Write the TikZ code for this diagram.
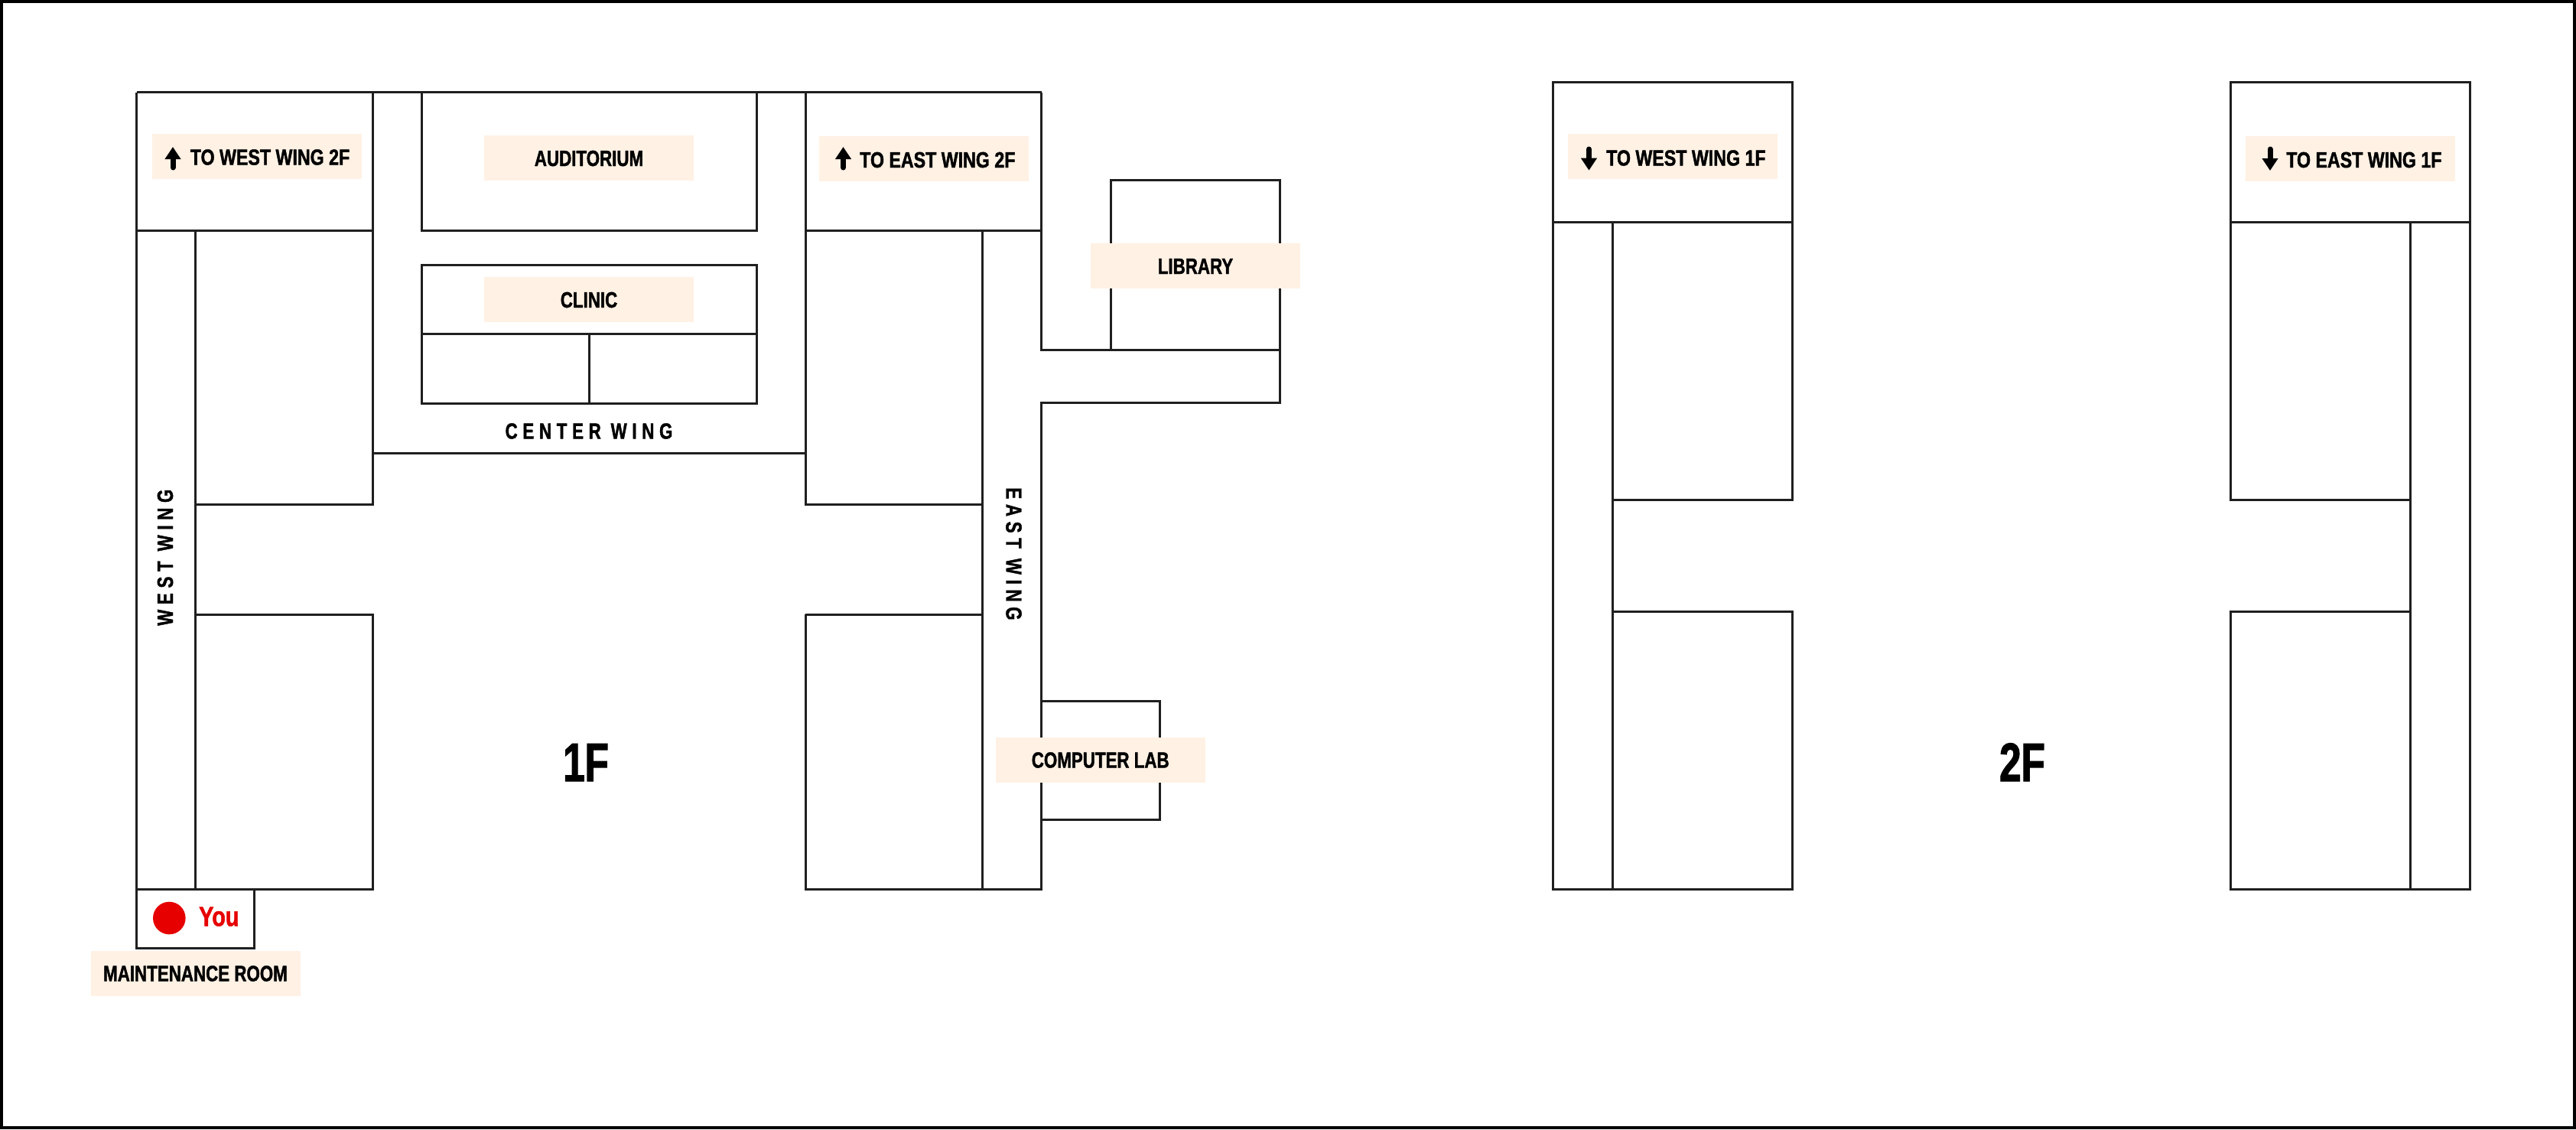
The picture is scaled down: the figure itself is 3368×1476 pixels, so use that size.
\documentclass[tikz,border=0pt]{standalone}
\usepackage{fontspec}
\usepackage{tikz}
\usetikzlibrary{arrows.meta}
\newfontfamily\signfont[FakeStretch=0.77,BoldFeatures={FakeBold=1.4}]{Liberation Sans}
\newfontfamily\tofont[FakeStretch=0.8,BoldFeatures={FakeBold=1.4}]{Liberation Sans}
\newfontfamily\wingfont[FakeStretch=0.77,BoldFeatures={FakeBold=1.4},LetterSpace=23]{Liberation Sans}
\newfontfamily\floorfont[FakeStretch=0.72,BoldFeatures={FakeBold=1.6}]{Liberation Sans}
\definecolor{signbg}{HTML}{FFF1E4}
\definecolor{wallcol}{HTML}{1F1F1F}
\definecolor{youred}{HTML}{E60000}
\tikzset{
  wall/.style={draw=wallcol,line width=3pt},
  signbox/.style={fill=signbg,inner sep=0pt,minimum width=274pt,minimum height=59pt},
  signtext/.style={inner sep=0pt,text height=21pt,text depth=0pt,font=\signfont\bfseries\fontsize{29}{29}\selectfont},
  totext/.style={inner sep=0pt,anchor=west,text height=21pt,text depth=0pt,font=\tofont\bfseries\fontsize{29}{29}\selectfont},
  wingtext/.style={inner sep=0pt,text height=21pt,text depth=0pt,font=\wingfont\bfseries\fontsize{29}{29}\selectfont},
  floortext/.style={inner sep=0pt,text height=52pt,text depth=0pt,font=\floorfont\bfseries\fontsize{71}{71}\selectfont},
  youtext/.style={inner sep=0pt,text=youred,text height=26.7pt,text depth=0pt,font=\tofont\bfseries\fontsize{36}{36}\selectfont},
  signarrow/.style={line width=7pt,line cap=round,-{Triangle[length=16pt,width=20pt]}}
}
\begin{document}
\begin{tikzpicture}[x=1pt,y=-1pt]
\useasboundingbox (0,0) rectangle (3368,1476);
\draw[black,line width=4pt] (2,2) rectangle (3366,1474);

% 1F west wing
\draw[wall] (178.5,120.5) -- (1361.7,120.5);
\draw[wall] (178.5,120.5) -- (178.5,1239) -- (332.7,1239) -- (332.7,1162);
\draw[wall] (178.5,1162) -- (487.5,1162) -- (487.5,803) -- (255.8,803);
\draw[wall] (255.8,1162) -- (255.8,301);
\draw[wall] (178.5,301) -- (487.5,301);
\draw[wall] (487.5,120.5) -- (487.5,659) -- (255.8,659);

% 1F center wing
\draw[wall] (487.5,592) -- (1053,592);
\draw[wall] (551.5,120.5) rectangle (989,301);
\draw[wall] (551.5,346.4) rectangle (989,527);
\draw[wall] (551.5,436.4) -- (989,436.4);
\draw[wall] (770,436.4) -- (770,527);

% 1F east wing
\draw[wall] (1053,120.5) -- (1053,659) -- (1284.7,659);
\draw[wall] (1053,301) -- (1361.7,301);
\draw[wall] (1284.7,301) -- (1284.7,1162);
\draw[wall] (1053,803.3) -- (1284.7,803.3);
\draw[wall] (1053,803.3) -- (1053,1162) -- (1361.7,1162) -- (1361.7,526.3) -- (1673.5,526.3) -- (1673.5,235.7) -- (1452.6,235.7) -- (1452.6,457);
\draw[wall] (1361.7,120.5) -- (1361.7,457) -- (1673.5,457);
\draw[wall] (1361.7,916.7) -- (1516.3,916.7) -- (1516.3,1071) -- (1361.7,1071);

% 2F
\draw[wall] (2108.6,799) -- (2343.3,799) -- (2343.3,1162) -- (2030.7,1162) -- (2030.7,107.5) -- (2343.3,107.5) -- (2343.3,653) -- (2108.6,653);
\draw[wall] (2030.7,290) -- (2343.3,290);
\draw[wall] (2108.6,290) -- (2108.6,1162);
\draw[wall] (3151,799) -- (2916,799) -- (2916,1162) -- (3229.7,1162) -- (3229.7,107.5) -- (2916,107.5) -- (2916,653) -- (3151,653);
\draw[wall] (2916,290) -- (3229.7,290);
\draw[wall] (3151,290) -- (3151,1162);

% signs
\node[signbox] (westup) at (336,204.5) {};
\node[signbox] (auditorium) at (770,206.5) {};
\node[signbox] (clinic) at (770,391.5) {};
\node[signbox] (eastup) at (1207.5,207.5) {};
\node[signbox] (library) at (1563,347.5) {};
\node[signbox] (complab) at (1438.7,993.8) {};
\node[signbox] (maint) at (255.5,1272.5) {};
\node[signbox] (westdown) at (2187,204.5) {};
\node[signbox] (eastdown) at (3073,207.5) {};

\node[signtext] (audtext) at (auditorium) {AUDITORIUM};
\node[signtext] (clintext) at (clinic) {CLINIC};
\node[signtext] (libtext) at (library) {LIBRARY};
\node[signtext] (labtext) at (1438.7,993) {COMPUTER LAB};
\node[signtext] (mainttext) at (255.5,1272) {MAINTENANCE ROOM};
\node[totext] (westuptext) at (248.6,205) {TO WEST WING 2F};
\node[totext] (eastuptext) at (1124,208.5) {TO EAST WING 2F};
\node[totext] (westdowntext) at (2100,206) {TO WEST WING 1F};
\node[totext] (eastdowntext) at (2989,208.5) {TO EAST WING 1F};

% arrows
\coordinate (wua) at (226,219);
\coordinate (wub) at (226,192);
\coordinate (eua) at (1102.5,219);
\coordinate (eub) at (1102.5,192);
\coordinate (wda) at (2077.5,195);
\coordinate (wdb) at (2077.5,222.7);
\coordinate (eda) at (2968,195);
\coordinate (edb) at (2968,223);
\draw[signarrow] (wua) -- (wub);
\draw[signarrow] (eua) -- (eub);
\draw[signarrow] (wda) -- (wdb);
\draw[signarrow] (eda) -- (edb);

% wing names
\node[wingtext] (centername) at (770,563) {CENTER WING};
\node[wingtext,rotate=90] (westname) at (215.5,728.7) {WEST WING};
\node[wingtext,rotate=-90] (eastname) at (1326,724) {EAST WING};

% floors and marker
\node[floortext] (floorone) at (766,995) {1F};
\node[floortext] (floortwo) at (2644,995) {2F};
\fill[youred] (221.3,1200) circle (21.3pt);
\node[youtext,anchor=west] (you) at (260,1197) {You};
\end{tikzpicture}
\end{document}
